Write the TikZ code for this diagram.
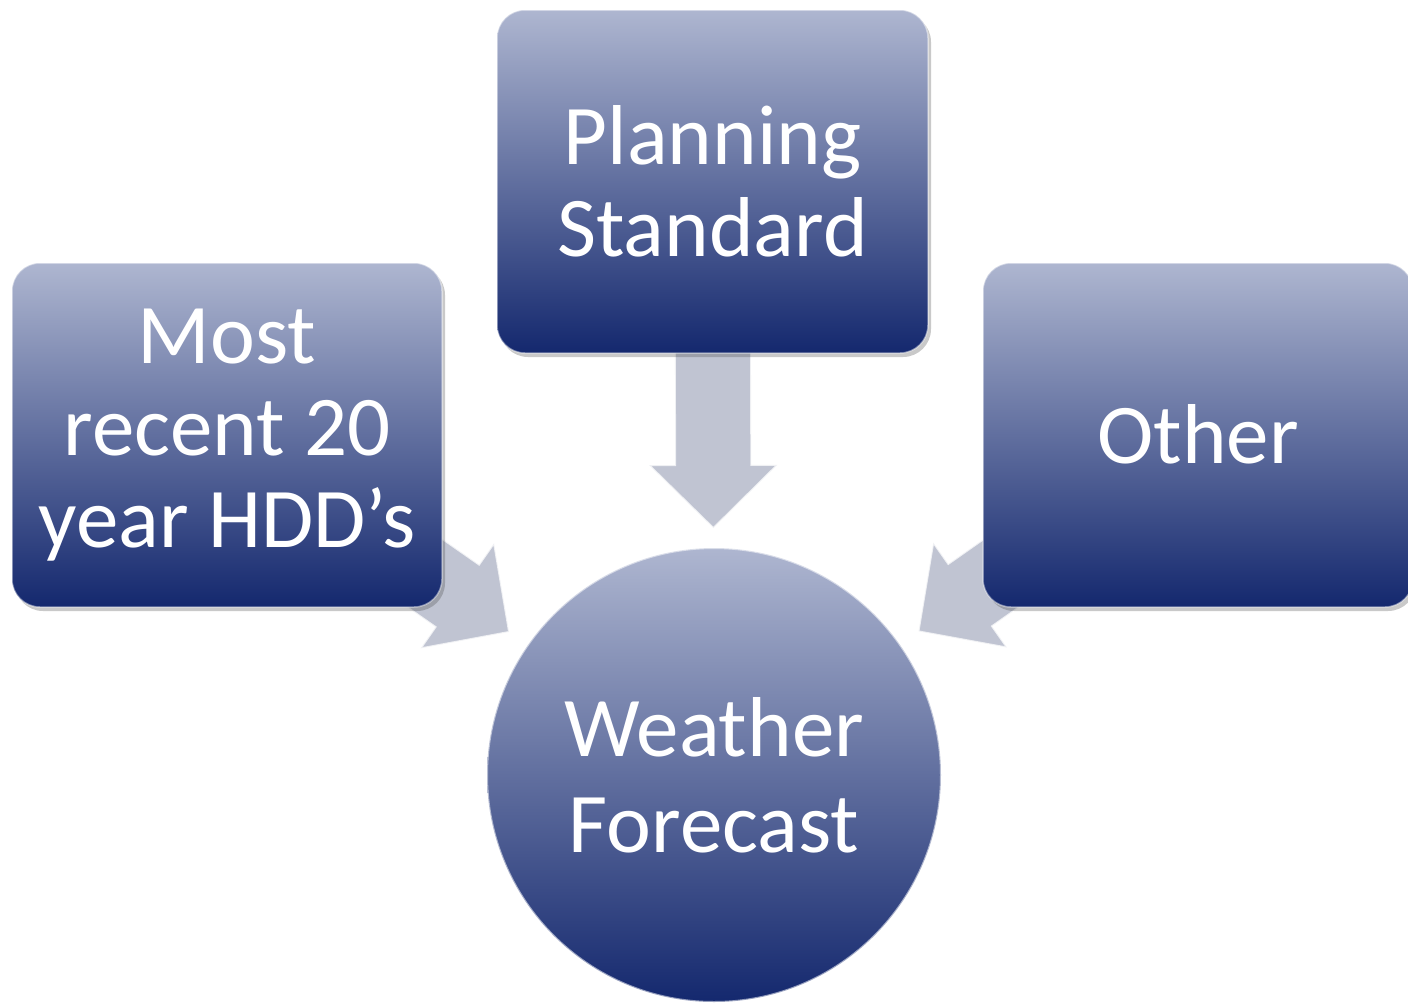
\documentclass[tikz,border=0pt]{standalone}
\usepackage{fontspec}
\setmainfont{Carlito}
\usetikzlibrary{calc,shadows}
\definecolor{boxtop}{RGB}{174,182,208}
\definecolor{boxmid}{RGB}{132,142,178}
\definecolor{boxbot}{RGB}{20,40,110}
\definecolor{arrowgray}{RGB}{192,196,210}
\tikzset{
  card/.style={rectangle, rounded corners=28pt, minimum width=430pt, minimum height=344pt,
    inner sep=0pt, align=center, text=white,
    top color=boxtop, middle color=boxmid, bottom color=boxbot,
    draw=white, draw opacity=0.45, line width=1.5pt,
    drop shadow={shadow xshift=3pt, shadow yshift=-4pt, opacity=0.3, fill=black!70},
    font=\fontsize{85}{92}\selectfont},
  disc/.style={circle, minimum size=454pt, inner sep=0pt, align=center, text=white,
    top color=boxtop, middle color=boxmid, bottom color=boxbot,
    draw=white, draw opacity=0.55, line width=2pt,
    font=\fontsize{85}{96}\selectfont},
  blockarrow/.style={fill=arrowgray, draw=white, draw opacity=0.75, line width=1.8pt, line join=miter}
}
\newcommand\myblockarrow[2]{%
  \coordinate (ab) at ($(#2)!63pt!(#1)$);
  \path[blockarrow]
    ($(#1)!38pt!90:(#2)$) -- ($(ab)!38pt!90:(#2)$) -- ($(ab)!64pt!90:(#2)$) --
    (#2) -- ($(ab)!64pt!-90:(#2)$) -- ($(ab)!38pt!-90:(#2)$) --
    ($(#1)!38pt!-90:(#2)$) -- cycle;
}
\begin{document}
\begin{tikzpicture}[x=1pt, y=-1pt]
\useasboundingbox (0,0) rectangle (1408,1002);
% node positions (for arrow geometry)
\coordinate (cMost) at (227,435);
\coordinate (cPlan) at (712.5,181.5);
\coordinate (cOther) at (1198,435);
\coordinate (cWF) at (714,775);
\coordinate (tipL) at ($(cWF)!250pt!(cMost)$);
\coordinate (tipT) at ($(cWF)!247pt!(cPlan)$);
\coordinate (tipR) at ($(cWF)!250pt!(cOther)$);
% arrows (drawn beneath the boxes)
\myblockarrow{cMost}{tipL}
\myblockarrow{cPlan}{tipT}
\myblockarrow{cOther}{tipR}
% boxes
\node[card] (most) at (cMost) {Most\\recent 20\\year HDD’s};
\node[card, minimum height=343pt, minimum width=431pt] (plan) at (cPlan) {\raisebox{4pt}{\parbox{431pt}{\centering Planning\\Standard}}};
\node[card] (other) at (cOther) {\raisebox{3pt}{Other}};
\node[disc] (wf) at (cWF) {Weather\\Forecast};
\end{tikzpicture}
\end{document}
